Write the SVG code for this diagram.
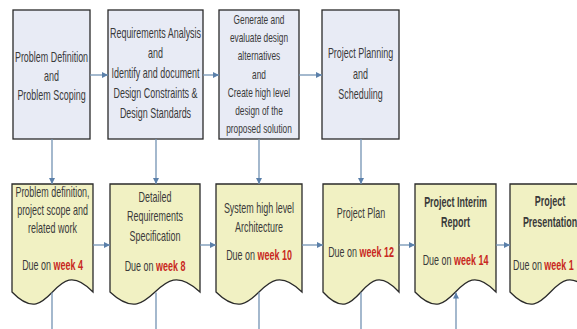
<svg xmlns="http://www.w3.org/2000/svg" width="577" height="329" viewBox="0 0 577 329">
<style>
.box{fill:#e8ebf5;stroke:#2a2a2a;stroke-width:1.3}
.doc{fill:#f1f1c3;stroke:#2a2a2a;stroke-width:1.3}
.t{font-family:"Liberation Sans",Arial,sans-serif;font-size:14px;fill:#3a3a3a;text-anchor:middle}
.s{font-size:13px}
.b{font-weight:bold}
.r{fill:#c8281e;font-weight:bold}
.c{fill:none;stroke:#7393b3;stroke-width:1.3}
</style>
<defs>
<marker id="ah" viewBox="0 0 8 8" refX="8" refY="4" markerWidth="6" markerHeight="6" orient="auto" markerUnits="userSpaceOnUse">
<path d="M0,0 L8,4 L0,8 Z" fill="#5b80aa"/>
</marker>
</defs>
<rect width="577" height="329" fill="#ffffff"/>

<g id="box1"><rect class="box" x="13" y="10" width="77" height="129"/>
<g transform="translate(51.5,0) scale(0.64,1)" class="t"><text x="0" y="62">Problem Definition</text><text x="0" y="81">and</text><text x="0" y="100">Problem Scoping</text></g></g>

<g id="box2"><rect class="box" x="108" y="10" width="95" height="129"/>
<g transform="translate(155.5,0) scale(0.64,1)" class="t"><text x="0" y="38.5">Requirements Analysis</text><text x="0" y="58.5">and</text><text x="0" y="78.5">Identify and document</text><text x="0" y="98.5">Design Constraints &amp;</text><text x="0" y="118.5">Design Standards</text></g></g>

<g id="box3"><rect class="box" x="219" y="10" width="80" height="129"/>
<g transform="translate(259,0) scale(0.64,1)" class="t s"><text x="0" y="24.5">Generate and</text><text x="0" y="42.5">evaluate design</text><text x="0" y="60.5">alternatives</text><text x="0" y="79.5">and</text><text x="0" y="97.5">Create high level</text><text x="0" y="115.5">design of the</text><text x="0" y="133">proposed solution</text></g></g>

<g id="box4"><rect class="box" x="322" y="10" width="77" height="129"/>
<g transform="translate(360.5,0) scale(0.64,1)" class="t"><text x="0" y="58">Project Planning</text><text x="0" y="79">and</text><text x="0" y="99">Scheduling</text></g></g>

<g id="doc1"><path class="doc" d="M12,184 H93 V292 C52.5,250 52.5,334 12,292 Z"/>
<g transform="translate(52.5,0) scale(0.64,1)" class="t"><text x="0" y="197">Problem definition,</text><text x="0" y="215">project scope and</text><text x="0" y="233">related work</text><text x="0" y="270">Due on <tspan class="r">week 4</tspan></text></g></g>

<g id="doc2"><path class="doc" d="M110,184 H200 V292 C155,250 155,334 110,292 Z"/>
<g transform="translate(155,0) scale(0.64,1)" class="t"><text x="0" y="202">Detailed</text><text x="0" y="221.5">Requirements</text><text x="0" y="241">Specification</text><text x="0" y="271">Due on <tspan class="r">week 8</tspan></text></g></g>

<g id="doc3"><path class="doc" d="M216,184 H302 V292 C259,250 259,334 216,292 Z"/>
<g transform="translate(259,0) scale(0.64,1)" class="t"><text x="0" y="213">System high level</text><text x="0" y="232">Architecture</text><text x="0" y="260">Due on <tspan class="r">week 10</tspan></text></g></g>

<g id="doc4"><path class="doc" d="M323,184 H399 V292 C361,250 361,334 323,292 Z"/>
<g transform="translate(361,0) scale(0.64,1)" class="t"><text x="0" y="218">Project Plan</text><text x="0" y="257">Due on <tspan class="r">week 12</tspan></text></g></g>

<g id="doc5"><path class="doc" d="M415,184 H496 V292 C455.5,250 455.5,334 415,292 Z"/>
<g transform="translate(455.5,0) scale(0.64,1)" class="t"><text class="b" x="0" y="207">Project Interim</text><text class="b" x="0" y="227">Report</text><text x="0" y="265">Due on <tspan class="r">week 14</tspan></text></g></g>

<g id="doc6"><path class="doc" d="M510,184 H591 V292 C550.5,250 550.5,334 510,292 Z"/>
<g transform="translate(550,0) scale(0.64,1)" class="t"><text class="b" x="0" y="206">Project</text><text class="b" x="0" y="227">Presentation</text></g>
<g transform="translate(513,0) scale(0.64,1)" class="t"><text x="0" y="270" text-anchor="start">Due on <tspan class="r">week 1</tspan></text></g></g>

<g id="connectors">
<line class="c" x1="90" y1="75" x2="108" y2="75" marker-end="url(#ah)"/>
<line class="c" x1="203" y1="75" x2="219" y2="75" marker-end="url(#ah)"/>
<line class="c" x1="299" y1="75" x2="322" y2="75" marker-end="url(#ah)"/>
<line class="c" x1="52" y1="139" x2="52" y2="184" marker-end="url(#ah)"/>
<line class="c" x1="156" y1="139" x2="156" y2="184" marker-end="url(#ah)"/>
<line class="c" x1="259" y1="139" x2="259" y2="184" marker-end="url(#ah)"/>
<line class="c" x1="361" y1="139" x2="361" y2="184" marker-end="url(#ah)"/>
<line class="c" x1="93" y1="245" x2="110" y2="245" marker-end="url(#ah)"/>
<line class="c" x1="200" y1="245" x2="216" y2="245" marker-end="url(#ah)"/>
<line class="c" x1="302" y1="245" x2="323" y2="245" marker-end="url(#ah)"/>
<line class="c" x1="399" y1="245" x2="415" y2="245" marker-end="url(#ah)"/>
<line class="c" x1="496" y1="245" x2="510" y2="245" marker-end="url(#ah)"/>
<line class="c" x1="52" y1="292.5" x2="52" y2="329"/>
<line class="c" x1="156" y1="292.5" x2="156" y2="329"/>
<line class="c" x1="259" y1="292.5" x2="259" y2="329"/>
<line class="c" x1="361" y1="292.5" x2="361" y2="329"/>
<line class="c" x1="456" y1="329" x2="456" y2="292.5" marker-end="url(#ah)"/>
</g>
</svg>
